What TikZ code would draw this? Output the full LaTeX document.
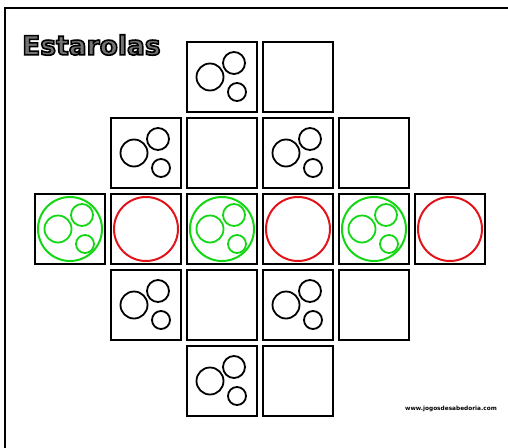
\documentclass[tikz,border=0pt]{standalone}
\usepackage{fontspec}
\setsansfont{DejaVu Sans}
\usetikzlibrary{calc}
\definecolor{verde}{RGB}{20,215,20}
\definecolor{vermelho}{RGB}{225,20,25}
\tikzset{
  casa/.style={draw, line width=2.4pt, minimum size=70pt, inner sep=0pt},
  bola/.style={draw, circle, line width=1.8pt, inner sep=0pt},
  grande/.style={draw, circle, line width=2pt, inner sep=0pt, minimum size=64pt}
}
% titulo com contorno (fill + stroke)
\newcommand{\contorno}[1]{%
  \special{pdf:literal direct 0.45 g 0 G 2 Tr 1.6 w}#1\special{pdf:literal direct 0 Tr 0 g}}
% tres bolas dentro de uma casa
\newcommand{\tresbolas}[2]{%
  \node[bola, #2, minimum size=27pt] at ($(#1)+(-12,0)$) {};
  \node[bola, #2, minimum size=22pt] at ($(#1)+(12,-14)$) {};
  \node[bola, #2, minimum size=18pt] at ($(#1)+(15,15)$) {};
}

\begin{document}
\begin{tikzpicture}[x=1pt, y=-1pt]
\useasboundingbox[fill=white] (0,0) rectangle (508,447);
\draw[line width=2pt] (5,470) -- (5,8) -- (530,8);

\node[anchor=west, inner sep=0pt, font=\sffamily\bfseries\fontsize{26.5}{26.5}\selectfont] (titulo) at (22,45)
  {\contorno{Estarolas}};

% primeira linha
\node[casa] (c13) at (222,77) {};
\node[casa] (c14) at (298,77) {};
% segunda linha
\node[casa] (c22) at (146,153) {};
\node[casa] (c23) at (222,153) {};
\node[casa] (c24) at (298,153) {};
\node[casa] (c25) at (374,153) {};
% linha do meio
\node[casa] (c31) at (70,229) {};
\node[casa] (c32) at (146,229) {};
\node[casa] (c33) at (222,229) {};
\node[casa] (c34) at (298,229) {};
\node[casa] (c35) at (374,229) {};
\node[casa] (c36) at (450,229) {};
% quarta linha
\node[casa] (c42) at (146,305) {};
\node[casa] (c43) at (222,305) {};
\node[casa] (c44) at (298,305) {};
\node[casa] (c45) at (374,305) {};
% ultima linha
\node[casa] (c53) at (222,381) {};
\node[casa] (c54) at (298,381) {};

\tresbolas{c13}{black}
\tresbolas{c22}{black}
\tresbolas{c24}{black}
\tresbolas{c42}{black}
\tresbolas{c44}{black}
\tresbolas{c53}{black}

\foreach \c in {c31,c33,c35}{
  \node[grande, verde] at (\c) {};
  \tresbolas{\c}{verde}
}
\foreach \c in {c32,c34,c36}
  \node[grande, vermelho] at (\c) {};

\node[font=\sffamily\bfseries\fontsize{5.8}{6.5}\selectfont, inner sep=0pt] (site) at (451,409) {www.jogosdesabedoria.com};
\end{tikzpicture}
\end{document}
